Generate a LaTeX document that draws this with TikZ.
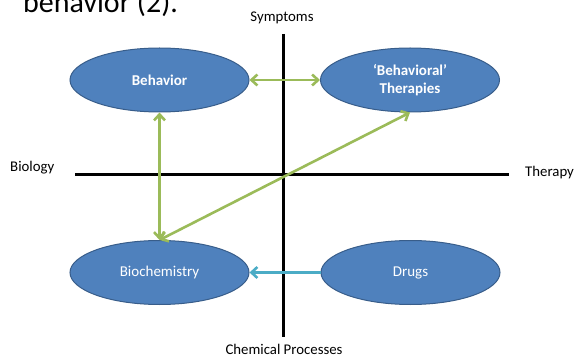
\documentclass[tikz,border=0pt]{standalone}
\usepackage{fontspec}
\setmainfont{Carlito}
\usetikzlibrary{shapes.geometric,arrows.meta}
\definecolor{ovalfill}{HTML}{4F81BD}
\definecolor{ovaledge}{HTML}{385D8A}
\definecolor{linkgreen}{HTML}{9BBB59}
\definecolor{linkcyan}{HTML}{4BACC6}
\tikzset{
  oval/.style={ellipse, fill=ovalfill, draw=ovaledge, line width=1pt,
    minimum width=179pt, minimum height=64pt, inner sep=0pt,
    text=white, font=\fontsize{15}{17}\selectfont, align=center},
  boldoval/.style={oval, font=\fontsize{15}{18}\selectfont\bfseries},
  axis/.style={line width=3pt, black},
  axislabel/.style={font=\fontsize{14.8}{17}\selectfont, inner sep=0pt},
  greenlink/.style={line width=2.6pt, linkgreen,
    {Straight Barb[length=6pt,width=11pt]}-{Straight Barb[length=6pt,width=11pt]}},
  cyanlink/.style={line width=2.6pt, linkcyan,
    -{Straight Barb[length=6pt,width=11pt]}}
}
\begin{document}
\begin{tikzpicture}[x=1pt,y=-1pt]
\useasboundingbox (0,0) rectangle (575,358);

% heading line carried over from the page above
\node[anchor=base west, inner sep=0pt, font=\fontsize{30}{34}\selectfont] (head) at (23,12.5) {behavior (2).};

% axes
\coordinate (vtop) at (283,34);
\coordinate (vbot) at (283,337);
\coordinate (hleft) at (75,174.3);
\coordinate (hright) at (509,174.3);
\draw[axis] (vtop) -- (vbot);
\draw[axis] (hleft) -- (hright);

% axis labels
\node[axislabel, anchor=base] (symp) at (282,22) {Symptoms};
\node[axislabel, anchor=base] (chem) at (284,354) {Chemical Processes};
\node[axislabel, anchor=base west] (biol) at (10,171.5) {Biology};
\node[axislabel, anchor=base west] (ther) at (525,177) {Therapy};

% quadrant ovals
\node[boldoval] (beh) at (159.5,80) {Behavior};
\node[boldoval] (bth) at (410,80) {\textquoteleft Behavioral\textquoteright\\Therapies};
\node[oval] (bio) at (159.5,272.5) {Biochemistry};
\node[oval] (drg) at (410.5,272.5) {Drugs};

% links
\draw[greenlink] (beh) -- (bth);
\draw[greenlink] (beh) -- (bio);
\draw[greenlink] (bio.north) -- (bth.south);
\draw[cyanlink] (drg) -- (bio);
\end{tikzpicture}
\end{document}
